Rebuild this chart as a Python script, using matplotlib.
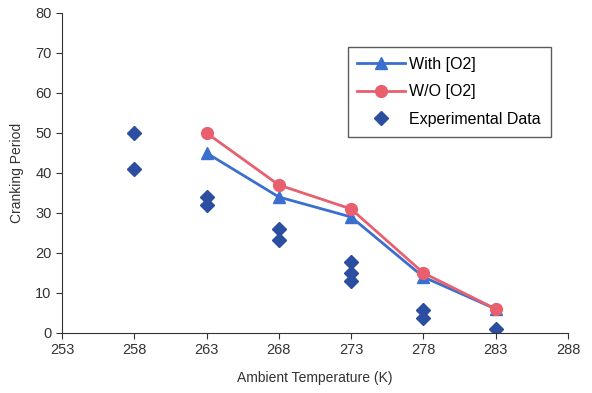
import matplotlib.pyplot as plt

plt.rcParams['font.family'] = ['Liberation Sans', 'DejaVu Sans']

# model results
temps = [263, 268, 273, 278, 283]
with_o2 = [45, 34, 29, 14, 6]
without_o2 = [50, 37, 31, 15, 6]

# experimental points
exp_t = [258, 258, 263, 263, 268, 268, 273, 273, 273, 278, 278, 283]
exp_p = [50, 41, 34, 32, 26, 23.2, 17.8, 15, 13, 5.8, 3.8, 1]

fig = plt.figure(figsize=(5.92, 3.93), dpi=100)
ax = fig.add_axes([62 / 592, 1 - 333 / 393, 506 / 592, 320 / 393])

ax.plot(temps, with_o2, color='#3a6fd0', lw=2, marker='^', ms=8.5, label='With [O2]')
ax.plot(temps, without_o2, color='#e8606e', lw=2, marker='o', ms=8.5, label='W/O [O2]')
ax.plot(exp_t, exp_p, ls='none', marker='D', ms=7, color='#2b4ea0', label='Experimental Data')

ax.set_xlim(253, 288)
ax.set_ylim(0, 80)
ax.set_xticks(range(253, 289, 5))
ax.set_yticks(range(0, 81, 10))
ax.tick_params(labelsize=10.5, direction='out', length=4, colors='#333333')
for s in ['top', 'right']:
    ax.spines[s].set_visible(False)
ax.spines['left'].set_color('#333333')
ax.spines['bottom'].set_color('#333333')

ax.set_xlabel('Ambient Temperature (K)', fontsize=10, color='#333333', labelpad=10)
ax.set_ylabel('Cranking Period', fontsize=10, color='#333333', labelpad=8)

leg = ax.legend(loc='upper left', bbox_to_anchor=(0.565, 0.894), fontsize=11.5,
                frameon=True, fancybox=False, edgecolor='#333333', borderaxespad=0,
                handlelength=3.0, handletextpad=0.25, labelspacing=0.8, borderpad=0.6)
leg.get_frame().set_linewidth(1)

fig.savefig('out.png', dpi=100)
